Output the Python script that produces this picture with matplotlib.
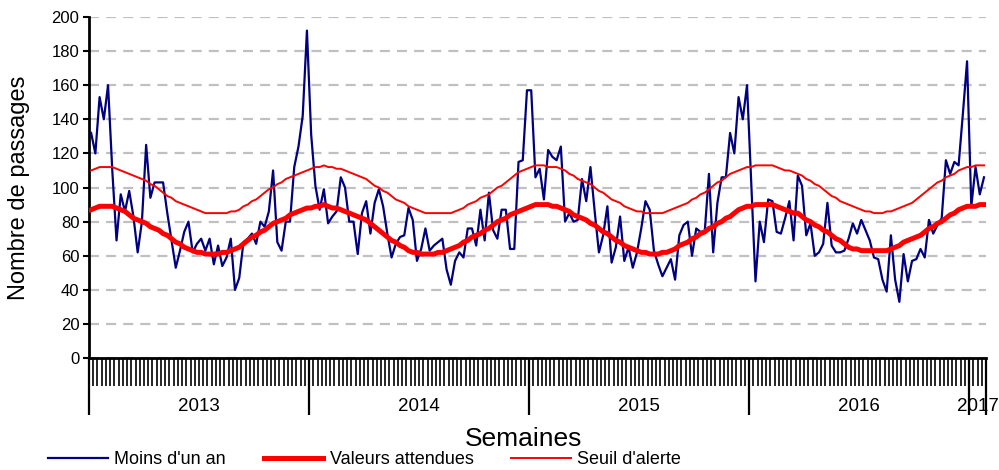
import matplotlib
matplotlib.use("Agg")
import matplotlib.pyplot as plt
import matplotlib.transforms as mtransforms
import numpy as np

plt.rcParams['font.family'] = ['Liberation Sans', 'DejaVu Sans']

# weekly counts, week 1 2013 -> week 4 2017
moins_un_an = [
    # 2013
    132, 120, 153, 140, 160, 110, 69, 96, 86, 98, 83, 62, 80, 125, 94, 103, 103, 103, 85, 69,
    53, 63, 74, 80, 62, 67, 70, 63, 70, 55, 66, 54, 59, 70, 40, 47, 68, 70, 73, 67,
    80, 77, 86, 110, 68, 63, 80, 80, 112, 124, 142, 192,
    # 2014
    131, 101, 87, 99, 79, 83, 86, 106, 100, 80, 80, 61, 85, 92, 73, 91, 99, 89, 73, 59,
    67, 71, 72, 88, 81, 57, 64, 76, 63, 66, 68, 70, 52, 43, 57, 62, 59, 76, 76, 66,
    87, 69, 97, 75, 70, 87, 87, 64, 64, 115, 116, 157,
    # 2015
    157, 106, 111, 93, 122, 118, 116, 124, 80, 85, 80, 81, 105, 92, 112, 86, 62, 72, 89, 56,
    65, 83, 57, 65, 53, 62, 76, 92, 87, 63, 55, 48, 53, 58, 46, 72, 78, 80, 60, 76,
    74, 74, 108, 62, 91, 106, 106, 132, 120, 153, 140, 160,
    # 2016
    102, 45, 80, 68, 93, 92, 74, 73, 82, 92, 69, 107, 101, 72, 79, 60, 62, 67, 91, 66,
    62, 62, 63, 70, 79, 73, 81, 75, 69, 59, 58, 46, 39, 72, 46, 33, 61, 45, 57, 58,
    64, 59, 81, 73, 78, 82, 116, 108, 115, 113, 143, 174,
    # 2017
    89, 112, 96, 106,
]

valeurs_attendues = [
    87, 88, 89, 89, 89, 89, 88, 87, 86, 84, 82, 81, 80, 79, 77, 76, 75, 73, 72, 70,
    68, 67, 65, 64, 63, 62, 62, 61, 61, 61, 61, 62, 62, 63, 64, 65, 67, 69, 71, 72,
    74, 75, 77, 79, 80, 81, 82, 84, 85, 86, 87, 88,
    88, 89, 89, 90, 89, 88, 88, 87, 86, 85, 84, 83, 82, 81, 79, 77, 75, 73, 71, 69,
    68, 66, 65, 63, 62, 62, 61, 61, 61, 61, 62, 62, 63, 64, 65, 66, 68, 69, 71, 72,
    73, 75, 76, 78, 80, 81, 82, 84, 85, 86, 87, 88,
    89, 90, 90, 90, 90, 89, 89, 88, 87, 86, 84, 83, 82, 81, 79, 78, 76, 74, 73, 71,
    69, 68, 66, 65, 64, 63, 62, 62, 61, 61, 61, 62, 62, 63, 64, 66, 67, 68, 70, 71,
    73, 74, 76, 77, 79, 80, 82, 83, 85, 87, 88, 89,
    89, 90, 90, 90, 90, 90, 89, 88, 87, 86, 85, 85, 83, 81, 80, 78, 77, 75, 74, 72,
    70, 69, 67, 65, 64, 64, 63, 63, 63, 63, 63, 63, 63, 64, 65, 66, 68, 69, 70, 71,
    72, 74, 76, 77, 79, 80, 82, 84, 85, 87, 88, 89,
    89, 89, 90, 90,
]

seuil_alerte = [
    110, 111, 112, 112, 112, 112, 111, 110, 109, 108, 107, 106, 105, 104, 102, 101, 99, 97, 95, 94,
    92, 91, 90, 89, 88, 87, 86, 85, 85, 85, 85, 85, 85, 86, 86, 87, 89, 90, 92, 93,
    95, 97, 99, 100, 102, 103, 105, 106, 107, 108, 109, 110,
    111, 112, 112, 113, 112, 112, 111, 111, 110, 109, 108, 107, 106, 105, 103, 101, 100, 98, 97, 95,
    93, 92, 91, 89, 88, 87, 86, 85, 85, 85, 85, 85, 85, 85, 86, 87, 88, 90, 91, 92,
    94, 95, 96, 98, 100, 101, 103, 105, 107, 109, 110, 111,
    112, 113, 113, 113, 112, 112, 112, 111, 110, 108, 107, 105, 104, 103, 102, 100, 98, 97, 95, 93,
    92, 91, 89, 88, 87, 86, 86, 85, 85, 85, 85, 85, 86, 87, 88, 89, 90, 91, 93, 94,
    96, 97, 99, 101, 103, 104, 106, 108, 109, 110, 111, 112,
    112, 113, 113, 113, 113, 113, 112, 111, 110, 110, 109, 108, 107, 105, 104, 102, 101, 99, 97, 95,
    94, 92, 91, 90, 89, 88, 87, 86, 86, 85, 85, 85, 86, 86, 87, 88, 89, 90, 91, 93,
    95, 97, 99, 101, 103, 104, 106, 107, 108, 110, 111, 112,
    112, 113, 113, 113,
]

annees = ["2013", "2014", "2015", "2016", "2017"]
semaines_par_annee = [52, 52, 52, 52, 4]

x = np.arange(len(moins_un_an))

fig = plt.figure(figsize=(9.99, 4.70), dpi=100)
ax = fig.add_axes([0.0891, 0.238, 0.898, 0.726])

ax.plot(x, moins_un_an, color="#000080", lw=1.6, label="Moins d'un an", zorder=3)
ax.plot(x, valeurs_attendues, color="#ff0000", lw=3.6, label="Valeurs attendues", zorder=4)
ax.plot(x, seuil_alerte, color="#ff0000", lw=1.4, label="Seuil d'alerte", zorder=5)

ax.set_ylim(0, 200)
ax.set_xlim(-0.5, len(x) - 0.5)
ax.set_yticks(range(0, 201, 20))
ax.yaxis.grid(True, color="#c0c0c0", lw=1.6, linestyle=(0, (4.5, 3.2)))
ax.set_axisbelow(True)

for s in ["top", "right"]:
    ax.spines[s].set_visible(False)
ax.spines["left"].set_linewidth(2)
ax.spines["bottom"].set_linewidth(2)

ax.tick_params(axis="y", direction="out", length=4, width=1.5, pad=3, labelsize=12)

# week ticks (minor) and year boundaries (major)
bornes = np.concatenate([[0], np.cumsum(semaines_par_annee)]) - 0.5
ax.set_xticks(bornes)
ax.set_xticklabels([])
ax.set_xticks(np.arange(len(x) + 1) - 0.5, minor=True)
ax.tick_params(axis="x", which="major", direction="out", length=41, width=1.6)
ax.tick_params(axis="x", which="minor", direction="out", length=20, width=1.2)

trans = mtransforms.blended_transform_factory(ax.transData, ax.transAxes)
for i, an in enumerate(annees):
    centre = (bornes[i] + bornes[i + 1]) / 2
    ax.text(centre, -0.141, an, transform=trans, ha="center", va="center", fontsize=13.5)

ax.set_xlabel("Semaines", fontsize=19)
ax.xaxis.set_label_coords(0.484, -0.202)
ax.set_ylabel("Nombre de passages", fontsize=17)
ax.yaxis.set_label_coords(-0.066, 0.5)

fig.legend(loc="center", bbox_to_anchor=(0.365, 0.022), ncol=3, frameon=False,
           fontsize=13, handlelength=3.3, handletextpad=0.35, columnspacing=2.1)

fig.savefig("out.png", dpi=100)
